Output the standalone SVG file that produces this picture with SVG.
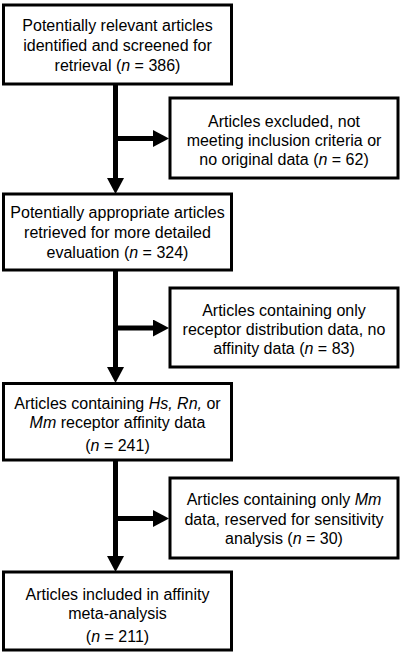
<svg xmlns="http://www.w3.org/2000/svg" width="401" height="655" viewBox="0 0 401 655">
<style>
.box{fill:#fff;stroke:#000;stroke-width:3}
.t{font-family:"Liberation Sans",Arial,sans-serif;font-size:16px;fill:#000;text-anchor:middle}
.i{font-style:italic}
.c{fill:none;stroke:#000;stroke-width:5}
</style>
<defs>
<marker id="ah" markerUnits="userSpaceOnUse" markerWidth="17" markerHeight="18" refX="2" refY="8.5" orient="auto">
<path d="M0,0 L16,8.5 L0,17 z" fill="#000"/>
</marker>
</defs>
<rect width="401" height="655" fill="#fff"/>
<g id="connectors">
<path class="c" d="M115.5,84 V180" marker-end="url(#ah)"/>
<path class="c" d="M115.5,138.5 H155" marker-end="url(#ah)"/>
<path class="c" d="M115.5,270 V369" marker-end="url(#ah)"/>
<path class="c" d="M115.5,328 H155" marker-end="url(#ah)"/>
<path class="c" d="M115.5,460 V558" marker-end="url(#ah)"/>
<path class="c" d="M115.5,518.5 H155" marker-end="url(#ah)"/>
</g>
<g id="n1">
<rect class="box" x="3.5" y="5" width="228" height="79"/>
<text class="t" x="117.5" y="31">Potentially relevant articles</text>
<text class="t" x="117.5" y="51">identified and screened for</text>
<text class="t" x="117.5" y="71">retrieval (<tspan class="i">n</tspan> = 386)</text>
</g>
<g id="n2">
<rect class="box" x="170" y="98" width="228" height="80"/>
<text class="t" x="284" y="127">Articles excluded, not</text>
<text class="t" x="284" y="146">meeting inclusion criteria or</text>
<text class="t" x="284" y="165">no original data (<tspan class="i">n</tspan> = 62)</text>
</g>
<g id="n3">
<rect class="box" x="3.5" y="194" width="228" height="76"/>
<text class="t" x="117.5" y="218">Potentially appropriate articles</text>
<text class="t" x="117.5" y="238">retrieved for more detailed</text>
<text class="t" x="117.5" y="258">evaluation (<tspan class="i">n</tspan> = 324)</text>
</g>
<g id="n4">
<rect class="box" x="170" y="288" width="228" height="79"/>
<text class="t" x="284" y="316">Articles containing only</text>
<text class="t" x="284" y="335">receptor distribution data, no</text>
<text class="t" x="284" y="354">affinity data (<tspan class="i">n</tspan> = 83)</text>
</g>
<g id="n5">
<rect class="box" x="3.5" y="383.5" width="228" height="76.5"/>
<text class="t" x="117.5" y="409">Articles containing <tspan class="i">Hs, Rn,</tspan> or</text>
<text class="t" x="117.5" y="428"><tspan class="i">Mm</tspan> receptor affinity data</text>
<text class="t" x="117.5" y="451">(<tspan class="i">n</tspan> = 241)</text>
</g>
<g id="n6">
<rect class="box" x="170" y="478" width="228" height="80"/>
<text class="t" x="284" y="505">Articles containing only <tspan class="i">Mm</tspan></text>
<text class="t" x="284" y="525">data, reserved for sensitivity</text>
<text class="t" x="284" y="544">analysis (<tspan class="i">n</tspan> = 30)</text>
</g>
<g id="n7">
<rect class="box" x="3.5" y="572" width="228" height="78"/>
<text class="t" x="117.5" y="600">Articles included in affinity</text>
<text class="t" x="117.5" y="619">meta-analysis</text>
<text class="t" x="117.5" y="642">(<tspan class="i">n</tspan> = 211)</text>
</g>
</svg>
